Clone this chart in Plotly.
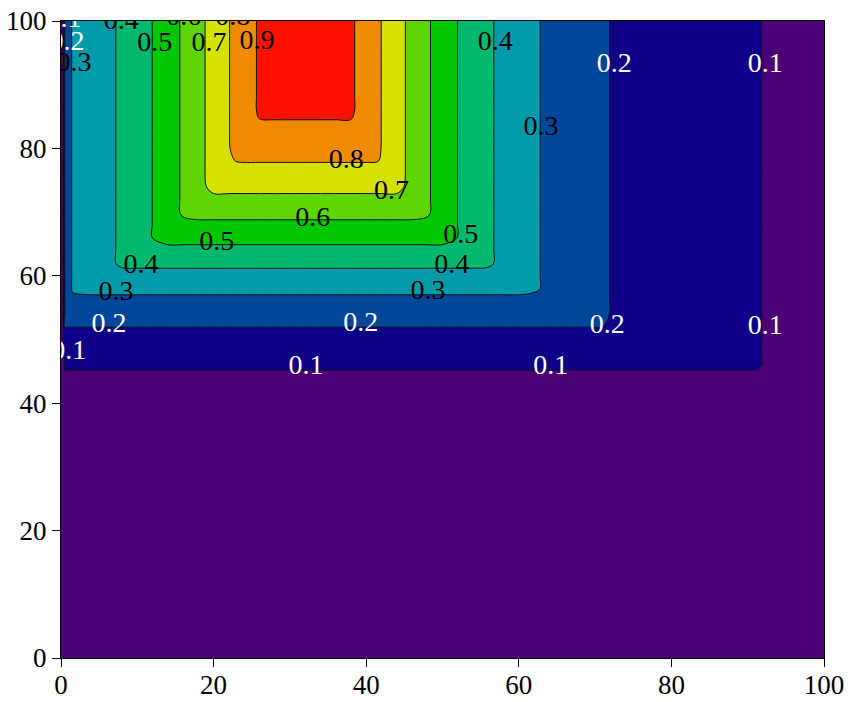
import numpy as np
import plotly.graph_objects as go

# Profile along x (value at each x grid position)
x_pos = [0, 0.5, 1, 1.5] + list(range(2, 91, 2)) + [91, 92, 93, 94, 96, 98, 100]
x_val = [0.0, 0.2, 0.26, 0.31,
         0.315, 0.344, 0.378, 0.415, 0.457, 0.501, 0.556, 0.612, 0.673, 0.734,
         0.797, 0.858, 0.91, 0.94, 0.96, 0.97, 0.96, 0.94, 0.914, 0.857,
         0.799, 0.735, 0.673, 0.612, 0.556, 0.499, 0.457, 0.413, 0.377, 0.343,
         0.31, 0.285, 0.264, 0.243, 0.221, 0.199, 0.19, 0.18, 0.17, 0.16,
         0.15, 0.14, 0.13, 0.12, 0.11,
         0.105, 0.099, 0.097, 0.095, 0.09, 0.085, 0.08]

# Profile along y (value at each y grid position)
y_pos = [0, 10, 20, 30, 40, 42, 44, 45, 46, 47] + list(range(48, 101, 2))
y_val = [0.0, 0.02, 0.04, 0.06, 0.08,
         0.087, 0.095, 0.098, 0.108, 0.123,
         0.138, 0.169, 0.201, 0.237, 0.278, 0.321, 0.374,
         0.418, 0.476, 0.53, 0.58, 0.63, 0.68, 0.724, 0.764, 0.804, 0.834,
         0.866, 0.895, 0.915, 0.93, 0.945, 0.96, 0.97, 0.98, 0.99, 1.0]

# Band colours, from the lowest band (< 0.1) to the highest (> 0.9)
band_colors = ["#4b0078", "#0f0088", "#00469b", "#009baa", "#00b86e",
               "#00c800", "#5ed500", "#d5e100", "#f08a00", "#ff1000"]

# Contour label placements for each level
label_text = ["0.1"] * 6 + ["0.2"] * 5 + ["0.3"] * 4 + ["0.4"] * 4 + ["0.5"] * 3 + \
             ["0.6"] * 2 + ["0.7"] * 2 + ["0.8"] * 2 + ["0.9"]
label_x = [0.4, 92.3, 92.3, 64.2, 32.1, 1.0,
           0.8, 72.5, 71.6, 39.3, 6.3,
           1.7, 62.9, 48.1, 7.2,
           7.9, 56.9, 51.2, 10.5,
           12.3, 52.4, 20.4,
           16.1, 33.0,
           19.4, 43.3,
           22.5, 37.4,
           25.7]
label_y = [100.2, 93.1, 52.0, 45.7, 45.7, 48.0,
           96.5, 93.1, 52.1, 52.4, 52.3,
           93.2, 83.2, 57.5, 57.3,
           99.8, 96.5, 61.5, 61.5,
           96.4, 66.2, 65.1,
           100.5, 68.9,
           96.4, 73.2,
           100.5, 78.0,
           96.7]

z = np.minimum.outer(np.array(y_val), np.array(x_val))

# stepped colorscale: each 0.1 band gets one flat colour
colorscale = []
n = len(band_colors)
for i, c in enumerate(band_colors):
    colorscale.append([i / n, c])
    colorscale.append([(i + 1) / n, c])

font_family = "Liberation Serif, Times New Roman, serif"

fig = go.Figure()

fig.add_trace(go.Contour(
    x=x_pos, y=y_pos, z=z,
    zmin=0, zmax=1, zauto=False,
    colorscale=colorscale, showscale=False,
    contours=dict(start=0.1, end=0.9, size=0.1, coloring="fill", showlabels=False),
    line=dict(width=1, color="#111"),
    hoverinfo="skip",
))

# labels: white on the dark low bands, black elsewhere
white = [float(t) < 0.25 for t in label_text]
for use_white, col in [(True, "white"), (False, "black")]:
    idx = [i for i, w in enumerate(white) if w == use_white]
    fig.add_trace(go.Scatter(
        x=[label_x[i] for i in idx], y=[label_y[i] for i in idx],
        text=[label_text[i] for i in idx],
        mode="text", textposition="middle center",
        textfont=dict(family=font_family, size=28, color=col),
        cliponaxis=True, hoverinfo="skip", showlegend=False,
    ))

axis_common = dict(
    range=[0, 100], showgrid=False, zeroline=False, automargin=False,
    showline=True, linecolor="black", linewidth=1, mirror=True,
    ticks="outside", ticklen=8, tickcolor="black", dtick=20,
    tickfont=dict(family=font_family, size=27, color="black"),
)

fig.update_layout(
    width=851, height=702,
    margin=dict(l=61, r=27, t=21, b=44),
    paper_bgcolor="white", plot_bgcolor="white",
    font=dict(family=font_family, size=28, color="black"),
    xaxis=dict(axis_common, ticklabelstandoff=-5),
    yaxis=axis_common,
    showlegend=False,
)

fig.write_html("out.html")
